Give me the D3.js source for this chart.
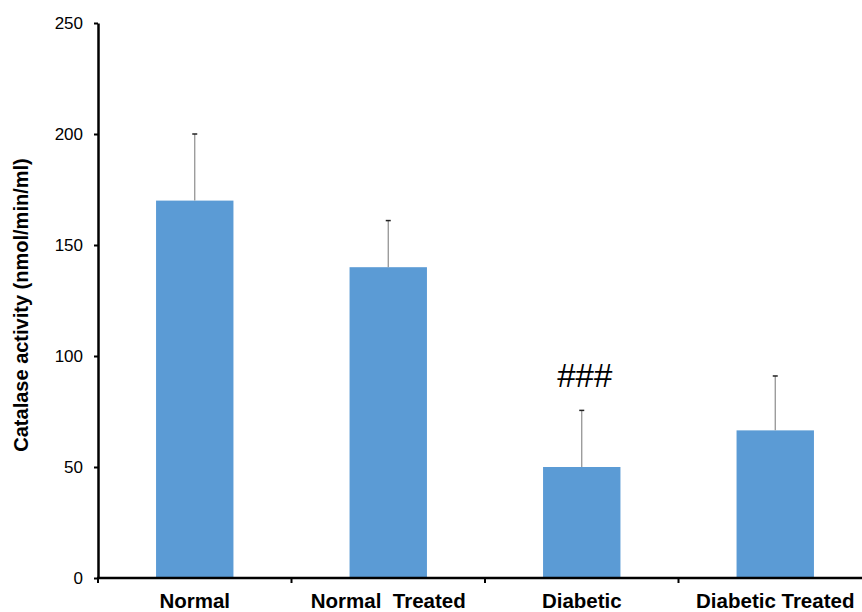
<!DOCTYPE html>
<html>
<head>
<meta charset="utf-8">
<script src="https://cdn.jsdelivr.net/npm/d3@7"></script>
<style>
  body { margin: 0; background: #fff; }
</style>
</head>
<body>
<svg id="chart"></svg>
<script>
const categories = ["Normal", "Normal  Treated", "Diabetic", "Diabetic Treated"];
const means = [170, 140, 50, 66.5];
const errors = [30, 21, 25.5, 24.5];
const annotations = ["", "", "###", ""];
const yTicks = [0, 50, 100, 150, 200, 250];

const width = 862;
const height = 612;
const marginLeft = 98;
const marginTop = 23;
const marginBottom = 34;
const axisRight = 872; // axis runs past the picture's right edge

const svg = d3.select("#chart")
  .attr("width", width)
  .attr("height", height)
  .attr("viewBox", [0, 0, width, height])
  .style("font-family", "Liberation Sans, Arial, sans-serif");

// Scales
const x = d3.scaleBand()
  .domain(categories)
  .range([marginLeft, axisRight])
  .paddingInner(0.6)
  .paddingOuter(0.3);

const y = d3.scaleLinear()
  .domain([0, 250])
  .range([height - marginBottom, marginTop]);

// Bars
svg.append("g")
  .attr("fill", "#5B9BD5")
  .selectAll()
  .data(categories)
  .join("rect")
  .attr("x", d => x(d))
  .attr("y", (d, i) => y(means[i]))
  .attr("width", x.bandwidth())
  .attr("height", (d, i) => y(0) - y(means[i]));

// Error bars (upper only)
const err = svg.append("g");
err.selectAll("line")
  .data(categories)
  .join("line")
  .attr("x1", d => x(d) + x.bandwidth() / 2)
  .attr("x2", d => x(d) + x.bandwidth() / 2)
  .attr("y1", (d, i) => y(means[i]))
  .attr("y2", (d, i) => y(means[i] + errors[i]))
  .attr("stroke", "#8c8c8c")
  .attr("stroke-width", 1.2);
err.selectAll("path")
  .data(categories)
  .join("path")
  .attr("d", (d, i) => {
    const cx = x(d) + x.bandwidth() / 2;
    const cy = y(means[i] + errors[i]);
    return `M${cx - 2.5},${cy}H${cx + 2.5}`;
  })
  .attr("stroke", "#222")
  .attr("stroke-width", 1.5);

// Significance marks
svg.append("g")
  .selectAll("text")
  .data(categories)
  .join("text")
  .attr("x", d => x(d) + x.bandwidth() / 2 + 3)
  .attr("y", (d, i) => y(means[i] + errors[i]) - 23)
  .attr("text-anchor", "middle")
  .attr("font-family", "Liberation Sans, Arial, sans-serif")
  .attr("font-size", 33)
  .attr("fill", "#000")
  .text((d, i) => annotations[i]);

// Y axis
svg.append("g")
  .attr("transform", `translate(${marginLeft},0)`)
  .call(d3.axisLeft(y).tickValues(yTicks).tickSize(4).tickSizeOuter(0).tickPadding(11))
  .call(g => g.select(".domain").attr("stroke", "#000").attr("stroke-width", 2.5))
  .call(g => g.selectAll(".tick line").attr("stroke", "#000").attr("stroke-width", 2))
  .call(g => g.selectAll(".tick text")
    .attr("font-size", 17)
    .attr("font-family", "Liberation Sans, Arial, sans-serif")
    .attr("fill", "#000"));

// X axis line with ticks at category boundaries
const gap = x.step() - x.bandwidth();
const boundaries = categories.map(d => x(d) - gap / 2);
const xAxis = svg.append("g");
xAxis.append("line")
  .attr("x1", marginLeft - 1)
  .attr("x2", axisRight)
  .attr("y1", y(0))
  .attr("y2", y(0))
  .attr("stroke", "#000")
  .attr("stroke-width", 2.5);
xAxis.selectAll(".btick")
  .data(boundaries)
  .join("line")
  .attr("class", "btick")
  .attr("x1", d => d)
  .attr("x2", d => d)
  .attr("y1", y(0))
  .attr("y2", y(0) + 5)
  .attr("stroke", "#000")
  .attr("stroke-width", 2);
xAxis.selectAll("text")
  .data(categories)
  .join("text")
  .attr("x", d => x(d) + x.bandwidth() / 2)
  .attr("y", y(0) + 30)
  .attr("text-anchor", "middle")
  .attr("font-size", 20.5)
  .attr("font-weight", "bold")
  .attr("fill", "#000")
  .style("white-space", "pre")
  .text(d => d);

// Y axis title
svg.append("text")
  .attr("transform", "translate(28,305) rotate(-90)")
  .attr("text-anchor", "middle")
  .attr("font-size", 20)
  .attr("font-weight", "bold")
  .attr("fill", "#000")
  .text("Catalase activity (nmol/min/ml)");
</script>
</body>
</html>
